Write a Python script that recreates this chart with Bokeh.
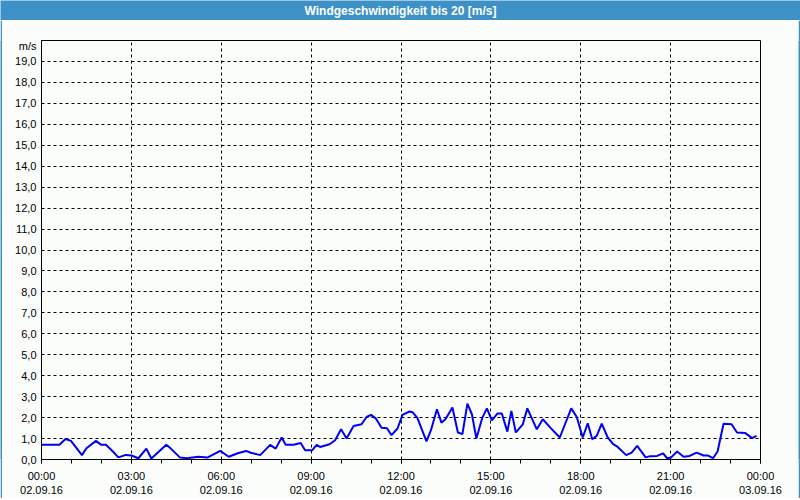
from bokeh.plotting import figure
from bokeh.layouts import column, row
from bokeh.models import FixedTicker, Range1d
from bokeh.core.properties import value
from bokeh.embed import file_html
from bokeh.resources import INLINE

# --- data (minutes after 02.09.16 00:00, m/s) ---
times_min = [0, 36, 48, 59, 81, 90, 109, 120, 129, 143, 154, 169, 180, 194, 210, 220,
             250, 259, 277, 291, 314, 333, 358, 375, 393, 410, 419, 438, 458, 469, 481,
             489, 505, 519, 528, 542, 551, 558, 577, 588, 600, 611, 625, 641, 651, 660,
             670, 681, 692, 701, 713, 723, 737, 744, 753, 771, 780, 792, 801, 809, 823,
             834, 843, 853, 862, 871, 883, 892, 902, 913, 922, 933, 941, 950, 964, 973,
             992, 1004, 1019, 1038, 1061, 1072, 1084, 1094, 1103, 1112, 1122, 1134, 1145,
             1154, 1171, 1182, 1193, 1210, 1219, 1233, 1245, 1253, 1261, 1273, 1286, 1298,
             1312, 1326, 1335, 1345, 1354, 1366, 1382, 1393, 1409, 1423, 1432]
speed = [0.70, 0.70, 0.98, 0.89, 0.21, 0.54, 0.89, 0.70, 0.70, 0.38, 0.10, 0.22, 0.19,
         0.06, 0.52, 0.05, 0.70, 0.52, 0.10, 0.06, 0.13, 0.10, 0.41, 0.13, 0.30, 0.41,
         0.32, 0.21, 0.70, 0.52, 1.05, 0.70, 0.70, 0.79, 0.44, 0.44, 0.70, 0.60, 0.73,
         0.92, 1.44, 1.00, 1.60, 1.68, 2.03, 2.13, 1.95, 1.52, 1.49, 1.16, 1.48, 2.13,
         2.29, 2.24, 1.97, 0.86, 1.40, 2.40, 1.76, 1.92, 2.48, 1.29, 1.21, 2.67, 2.16,
         1.00, 2.00, 2.44, 1.87, 2.19, 2.19, 1.33, 2.32, 1.29, 1.68, 2.44, 1.44, 1.92,
         1.52, 1.05, 2.44, 2.03, 1.05, 1.73, 0.97, 1.13, 1.71, 1.05, 0.73, 0.60, 0.21,
         0.33, 0.65, 0.10, 0.16, 0.17, 0.29, 0.06, 0.10, 0.38, 0.13, 0.17, 0.33, 0.19,
         0.19, 0.06, 0.38, 1.71, 1.68, 1.29, 1.27, 1.02, 1.13]

x_major_hours = [0, 3, 6, 9, 12, 15, 18, 21, 24]
x_tick_labels = ["00:00\n02.09.16", "03:00\n02.09.16", "06:00\n02.09.16",
                 "09:00\n02.09.16", "12:00\n02.09.16", "15:00\n02.09.16",
                 "18:00\n02.09.16", "21:00\n02.09.16", "00:00\n03.09.16"]
x_minor_hours = list(range(0, 25))
y_ticks = list(range(0, 20))
y_tick_labels = ["0,0", "1,0", "2,0", "3,0", "4,0", "5,0", "6,0", "7,0", "8,0", "9,0",
                 "10,0", "11,0", "12,0", "13,0", "14,0", "15,0", "16,0", "17,0",
                 "18,0", "19,0"]
unit_pos = 19.75
unit_text = "m/s"
title_text = "Windgeschwindigkeit bis 20 [m/s]"

BG = "#fbfdfb"
BLUE_BAR = "#3d91c6"
FONT = "Liberation Sans"

hours = [t / 60.0 for t in times_min]


def bar_fig(w, h):
    f = figure(width=w, height=h, output_backend="svg", toolbar_location=None,
               x_axis_type=None, y_axis_type=None, min_border=0,
               x_range=Range1d(0, 1), y_range=Range1d(0, 1))
    f.min_border_left = f.min_border_right = f.min_border_top = f.min_border_bottom = 0
    f.background_fill_color = BLUE_BAR
    f.border_fill_color = BLUE_BAR
    f.outline_line_color = None
    f.xgrid.visible = False
    f.ygrid.visible = False
    return f


# title bar
tb = bar_fig(800, 20)
tb.text(x=[0.5], y=[0.5], text=[title_text], text_align="center",
        text_baseline="middle", text_color="white", text_font=value(FONT),
        text_font_style="bold", text_font_size="12px")

# main chart
p = figure(width=796, height=478, output_backend="svg", toolbar_location=None,
           x_range=Range1d(0, 24), y_range=Range1d(0, 20),
           min_border_left=39, min_border_right=38, min_border_top=20,
           min_border_bottom=38)
p.background_fill_color = BG
p.border_fill_color = BG
p.outline_line_color = "black"
p.outline_line_width = 1

p.line(hours, speed, line_color="#0000f4", line_width=2)

xa = p.xaxis[0]
xa.ticker = FixedTicker(ticks=x_major_hours, minor_ticks=x_minor_hours)
xa.major_label_overrides = {h: lab for h, lab in zip(x_major_hours, x_tick_labels)}
xa.axis_line_color = "black"
xa.major_tick_line_color = "black"
xa.minor_tick_line_color = "black"
xa.major_tick_in = 0
xa.major_tick_out = 4
xa.minor_tick_in = 0
xa.minor_tick_out = 4
xa.major_label_standoff = 6
xa.major_label_text_font = FONT
xa.major_label_text_font_size = "11px"
xa.major_label_text_color = "black"

ya = p.yaxis[0]
ya.ticker = FixedTicker(ticks=y_ticks + [unit_pos])
overrides = {v: lab for v, lab in zip(y_ticks, y_tick_labels)}
overrides[unit_pos] = unit_text
ya.major_label_overrides = overrides
ya.axis_line_color = "black"
ya.major_tick_in = 0
ya.major_tick_out = 0
ya.minor_tick_line_color = None
ya.major_label_standoff = 5
ya.major_label_text_font = FONT
ya.major_label_text_font_size = "11px"
ya.major_label_text_color = "black"

p.xgrid.grid_line_color = "black"
p.xgrid.grid_line_dash = "3 3"
p.ygrid.ticker = FixedTicker(ticks=y_ticks)
p.ygrid.grid_line_color = "black"
p.ygrid.grid_line_dash = "3 3"

layout = column(tb, row(bar_fig(2, 478), p, bar_fig(2, 478)), bar_fig(800, 2))

open("out.html", "w").write(file_html(layout, INLINE))
